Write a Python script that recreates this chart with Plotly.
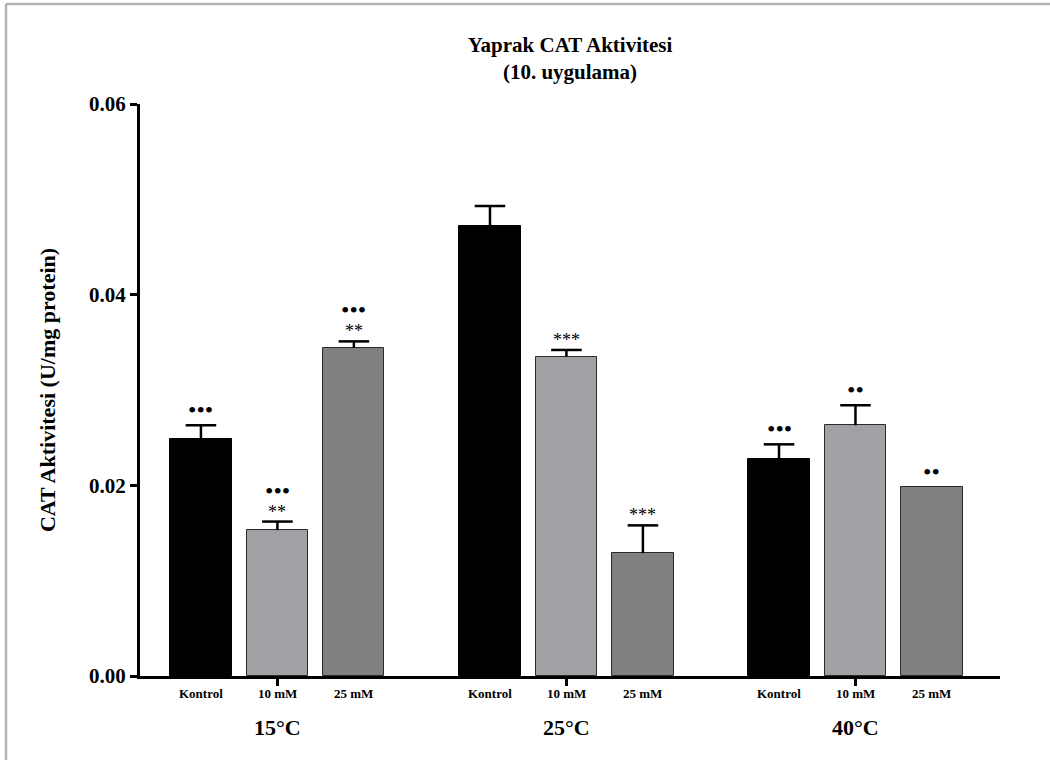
import plotly.graph_objects as go

groups = ["15°C", "25°C", "40°C"]
treatments = ["Kontrol", "10 mM", "25 mM"]

kontrol = [0.0249, 0.0472, 0.0228]
kontrol_err = [0.0014, 0.0021, 0.0015]
mm10 = [0.0153, 0.0335, 0.0263]
mm10_err = [0.0009, 0.0007, 0.0021]
mm25 = [0.0344, 0.0129, 0.0198]
mm25_err = [0.0007, 0.0029, 0.0]

stars = {
    "Kontrol": ["", "", ""],
    "10 mM": ["**", "***", ""],
    "25 mM": ["**", "***", ""],
}
dots = {
    "Kontrol": ["•••", "", "•••"],
    "10 mM": ["•••", "", "••"],
    "25 mM": ["•••", "", "••"],
}

series = {
    "Kontrol": (kontrol, kontrol_err, "#000000", "#000000"),
    "10 mM": (mm10, mm10_err, "#A1A1A5", "#2a2a2a"),
    "25 mM": (mm25, mm25_err, "#808080", "#2a2a2a"),
}

GROUP_STEP = 3.78
CAP_HALF = 0.2
FONT = "Liberation Serif"

fig = go.Figure()
annotations = []
ex, ey = [], []
for k, t in enumerate(treatments):
    vals, errs, fill, line = series[t]
    xs = [g * GROUP_STEP + (k - 1) for g in range(len(groups))]
    fig.add_trace(go.Bar(
        x=xs, y=vals, width=0.8,
        marker=dict(color=fill, line=dict(color=line, width=1)),
        showlegend=False, hoverinfo="skip",
    ))
    for g in range(len(groups)):
        v, e = vals[g], errs[g]
        top = v + e
        if e > 0:
            ex += [xs[g], xs[g], None, xs[g] - CAP_HALF, xs[g] + CAP_HALF, None]
            ey += [v, top, None, top, top, None]
        shift = 4
        if stars[t][g]:
            annotations.append(dict(
                x=xs[g], y=top, xref="x", yref="y", text=stars[t][g],
                showarrow=False, yanchor="bottom", yshift=shift - 6,
                font=dict(family=FONT, size=18, color="#000")))
            shift += 16
        if dots[t][g]:
            annotations.append(dict(
                x=xs[g], y=top, xref="x", yref="y", text=dots[t][g],
                showarrow=False, yanchor="bottom", yshift=shift - 4,
                font=dict(family=FONT, size=24, color="#000")))
        annotations.append(dict(
            x=xs[g], y=0, xref="x", yref="paper", text="<b>%s</b>" % t,
            showarrow=False, yanchor="top", yshift=-8,
            font=dict(family=FONT, size=13, color="#000")))

fig.add_trace(go.Scatter(
    x=ex, y=ey, mode="lines", line=dict(color="#000", width=2.5),
    showlegend=False, hoverinfo="skip", cliponaxis=False,
))

group_centers = [g * GROUP_STEP for g in range(len(groups))]
for g, name in enumerate(groups):
    annotations.append(dict(
        x=group_centers[g], y=0, xref="x", yref="paper",
        text="<b>%s</b>" % name, showarrow=False, yanchor="top", yshift=-37,
        font=dict(family=FONT, size=22, color="#000")))

fig.update_layout(
    width=1050, height=760,
    margin=dict(l=140, r=50, t=104, b=84),
    paper_bgcolor="white", plot_bgcolor="white",
    title=dict(text="<b>Yaprak CAT Aktivitesi<br>(10. uygulama)</b>",
               x=0.5, xref="paper", y=1 - 52 / 760, yref="container",
               yanchor="middle",
               font=dict(family=FONT, size=21, color="#000")),
    bargap=0,
    annotations=annotations,
    shapes=[
        dict(type="line", xref="paper", yref="paper",
             x0=(6 - 140) / 860, x1=1.2, y0=(676 - 4) / 572, y1=(676 - 4) / 572,
             line=dict(color="#b3b3b3", width=2.5)),
        dict(type="line", xref="paper", yref="paper",
             x0=(6 - 140) / 860, x1=(6 - 140) / 860, y0=-0.3, y1=(676 - 4) / 572,
             line=dict(color="#b3b3b3", width=2.5)),
    ],
)
fig.update_xaxes(
    range=[-1.797, 2 * GROUP_STEP + 1 + 0.89],
    tickvals=group_centers, showticklabels=False,
    ticks="outside", ticklen=7, tickwidth=3, tickcolor="#000",
    showline=True, linecolor="#000", linewidth=3,
    showgrid=False, zeroline=False,
)
fig.update_yaxes(
    range=[0, 0.06], tickvals=[0, 0.02, 0.04, 0.06], tickformat=".2f",
    ticks="outside", ticklen=7, tickwidth=3, tickcolor="#000",
    showline=True, linecolor="#000", linewidth=3,
    showgrid=False, zeroline=False,
    tickfont=dict(family=FONT, size=21, color="#000", weight="bold"),
    title=dict(text="<b>CAT Aktivitesi (U/mg protein)</b>", standoff=28,
               font=dict(family=FONT, size=22, color="#000")),
    automargin=False,
)

fig.write_html("out.html")
